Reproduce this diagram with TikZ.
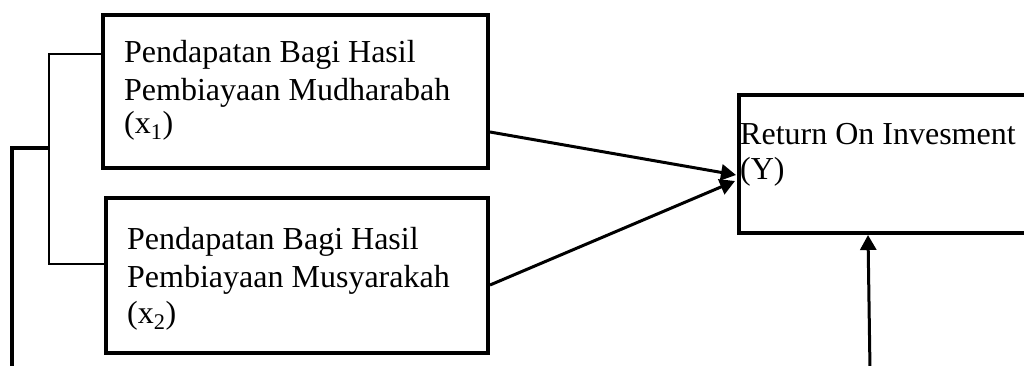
\documentclass[tikz,border=0pt]{standalone}
\usepackage{fontspec}
\setmainfont{Liberation Serif}
\usetikzlibrary{arrows.meta}
\begin{document}
\begin{tikzpicture}[x=1pt,y=-1pt,
  varbox/.style={draw, line width=4pt, rectangle, inner sep=0pt},
  label text/.style={anchor=north west, inner sep=0pt, align=left,
    font=\fontsize{32}{37.5}\selectfont},
  link/.style={line width=3pt, -{Triangle[length=15pt,width=16pt]}},
  thin/.style={line width=1.2pt},
  thick/.style={line width=3.4pt}]
  \useasboundingbox (0,0) rectangle (1024,365);
  \clip (0,0) rectangle (1024,365);

  % independent variables
  \node[varbox, minimum width=385pt, minimum height=153pt] (x1) at (295.5,91.5) {};
  \node[label text] (t1) at (124,40.1)
    {Pendapatan Bagi Hasil\\Pembiayaan Mudharabah\\[-4pt](x\textsubscript{1})};
  \node[varbox, minimum width=382pt, minimum height=155pt] (x2) at (297,275.5) {};
  \node[label text] (t2) at (127,227.1)
    {Pendapatan Bagi Hasil\\Pembiayaan Musyarakah\\[-1pt](x\textsubscript{2})};

  % dependent variable (runs past the right edge)
  \node[varbox, minimum width=340pt, minimum height=138pt, anchor=north west]
    (y) at (737,93) {};
  \node[label text, font=\fontsize{32}{35}\selectfont] (ty) at (740,123.4)
    {Return On Invesment\\(Y)};

  % bracket joining the two inputs
  \coordinate (b1) at (49,54);
  \coordinate (b2) at (49,264);
  \coordinate (bm) at (49,148);
  \coordinate (corner) at (12,148);
  \coordinate (down) at (12,370);
  \draw[thin] (x1.west |- b1) -- (b1) -- (b2) -- (x2.west |- b2);
  \draw[thick] (bm) -- (corner) -- (down);

  % paths into Y
  \coordinate (in1) at (736,175);
  \coordinate (in2) at (735,181);
  \coordinate (out1) at (488,132);
  \coordinate (out2) at (488,285);
  \draw[link] (x1.east |- out1) -- (in1);
  \draw[link] (x2.east |- out2) -- (in2);
  \coordinate (up) at (870,370);
  \draw[link] (up) -- (y.south -| 868,0);
\end{tikzpicture}
\end{document}
